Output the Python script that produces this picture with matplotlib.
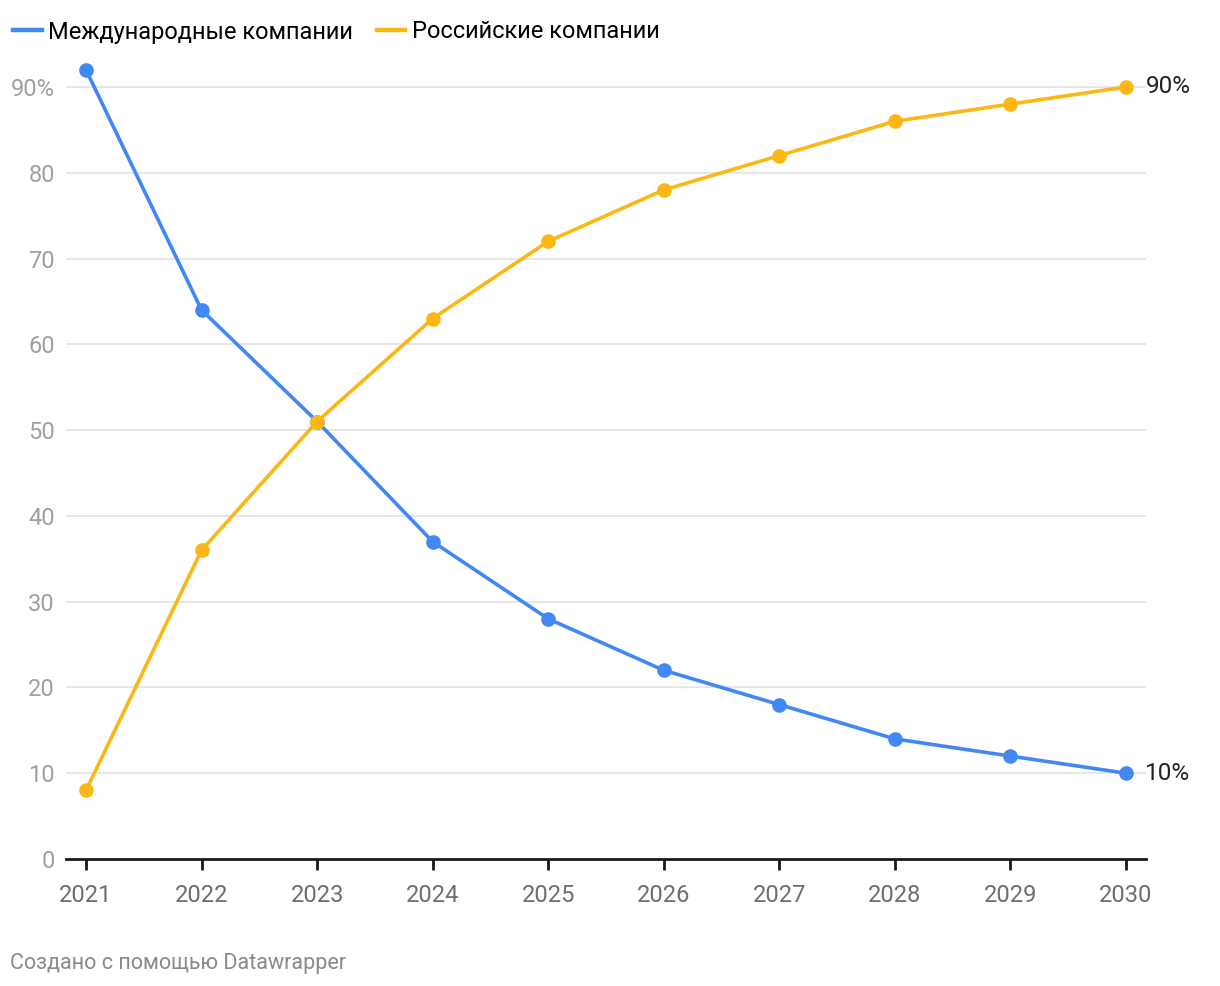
import matplotlib.pyplot as plt
from matplotlib.lines import Line2D

years = [2021, 2022, 2023, 2024, 2025, 2026, 2027, 2028, 2029, 2030]
intl = [92, 64, 51, 37, 28, 22, 18, 14, 12, 10]
russian = [8, 36, 51, 63, 72, 78, 82, 86, 88, 90]
series_names = ["Международные компании", "Российские компании"]
y_ticks = [0, 10, 20, 30, 40, 50, 60, 70, 80, 90]
y_labels = ["0", "10", "20", "30", "40", "50", "60", "70", "80", "90%"]

blue = "#4288f5"
yellow = "#fcb714"

plt.rcParams["font.family"] = ["Roboto", "DejaVu Sans"]

fig = plt.figure(figsize=(12.2, 9.86), dpi=100)
ax = fig.add_axes([0.0541, 0.1288, 0.8852, 0.8178])

# grid
for t in y_ticks[1:]:
    ax.axhline(t, color="#e2e2e2", linewidth=1.2, zorder=0)

ax.plot(years, intl, color=blue, linewidth=2.6, marker="o", markersize=9.5, zorder=3)
ax.plot(years, russian, color=yellow, linewidth=2.6, marker="o", markersize=9.5, zorder=3)

ax.set_xlim(2020.827, 2030.173)
ax.set_ylim(0, 94)

for side in ["top", "right", "left"]:
    ax.spines[side].set_visible(False)
ax.spines["bottom"].set_linewidth(2)
ax.spines["bottom"].set_color("#1a1a1a")

ax.set_xticks(years)
ax.set_xticklabels([str(y) for y in years], fontsize=17, color="#6e6e6e")
ax.tick_params(axis="x", length=8, width=2, color="#1a1a1a", pad=10)

ax.set_yticks(y_ticks)
ax.set_yticklabels(y_labels, fontsize=17, color="#a0a0a0")
ax.tick_params(axis="y", length=0, pad=8)

# end labels
ax.annotate("90%", (years[-1], russian[-1]), xytext=(14, 0), textcoords="offset points",
            fontsize=17.5, color="#222222", va="center", ha="left", annotation_clip=False)
ax.annotate("10%", (years[-1], intl[-1]), xytext=(14, 0), textcoords="offset points",
            fontsize=17.5, color="#222222", va="center", ha="left", annotation_clip=False)

# legend
handles = [Line2D([0], [0], color=blue, linewidth=3.2),
           Line2D([0], [0], color=yellow, linewidth=3.2)]
fig.legend(handles, series_names, loc="center left", bbox_to_anchor=(13 / 1220, 1 - 32 / 986),
           ncol=2, frameon=False, fontsize=17, handlelength=1.22, handletextpad=0.27,
           columnspacing=1.0, borderaxespad=0, borderpad=0)

fig.text(10 / 1220, 1 - 963 / 986, "Создано с помощью Datawrapper", fontsize=15.5,
         color="#8a8a8a", va="center", ha="left")

fig.savefig("out.png", dpi=100)
